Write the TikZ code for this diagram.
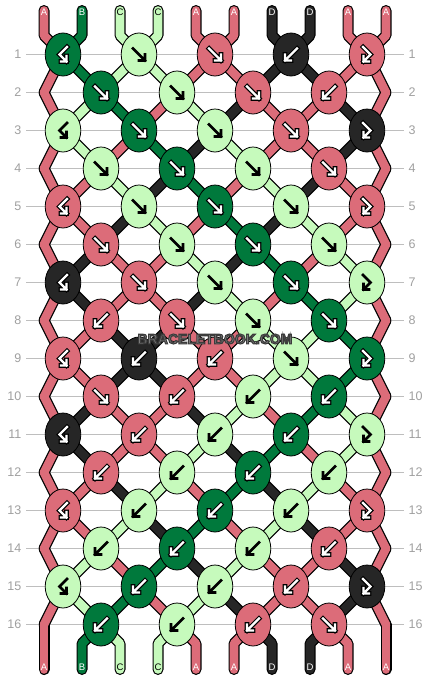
\documentclass[tikz,border=0pt]{standalone}
\usepackage{fontspec}
\setmainfont{Liberation Sans}
\usetikzlibrary{shapes.geometric}
\pgfdeclarelayer{back}
\pgfdeclarelayer{bg}
\pgfsetlayers{back,bg,main}
\definecolor{c0}{HTML}{DC6C79}
\definecolor{c1}{HTML}{00793C}
\definecolor{c2}{HTML}{C6FABC}
\definecolor{c3}{HTML}{262626}
\definecolor{rowgray}{HTML}{BEBEBE}
\definecolor{numgray}{HTML}{A0A0A0}
\definecolor{wmfill}{HTML}{858585}
\definecolor{wmline}{HTML}{3C3C3C}
\newcommand\PathF{(-6,-6) -- (6,6) (0,6) -- (6,6) -- (6,0)}
\newcommand\PathB{(6,-6) -- (-6,6) (0,6) -- (-6,6) -- (-6,0)}
\newcommand\PathFB{(-4,-7.5) -- (3.5,0) -- (-3.5,7) (-3.5,1.5) -- (-3.5,7) -- (2,7)}
\newcommand\PathBF{(4,-7.5) -- (-3.5,0) -- (3.5,7) (3.5,1.5) -- (3.5,7) -- (-2,7)}
\newcommand\OutlinedText[1]{\special{pdf:literal direct 2 Tr 1.1 w 0.235 0.235 0.235 RG}#1\special{pdf:literal direct 0 Tr}}
\tikzset{
  knot/.style={ellipse, draw=black, line width=0.8pt, inner sep=0pt, minimum width=35.6pt, minimum height=43pt},
  arrO/.style={draw=black, line width=4.6pt, line cap=rect, line join=miter},
  arrW/.style={draw=white, line width=2.4pt, line cap=rect, line join=miter},
  arrK/.style={draw=black, line width=2.6pt, line cap=rect, line join=miter},
  thread/.style={line cap=round, line join=round},
  rowline/.style={draw=rowgray, line width=1pt},
  rownum/.style={text=numgray, font=\fontsize{12.5}{12.5}\selectfont, inner sep=0pt},
  strlab/.style={font=\fontsize{9.5}{9.5}\selectfont, inner sep=0pt},
  wm/.style={font=\bfseries\fontsize{14}{14}\selectfont, inner sep=0pt},
}
\newcommand\Knot[4]{%
  \pgfmathsetmacro\kx{63+38*(1-mod(#1,2))+76*(#2-1)}%
  \pgfmathsetmacro\ky{54.5+38*(#1-1)}%
  \node[knot, fill=c#3] (k#1-#2) at (\kx,\ky) {};
  \expandafter\let\expandafter\curpath\csname Path#4\endcsname
  \begin{scope}[shift={(k#1-#2.center)}]
    \ifnum#3=2
      \draw[arrK] \curpath;
    \else
      \draw[arrO] \curpath;
      \draw[arrW] \curpath;
    \fi
  \end{scope}
}
\def\Tstate{{0,1,2,2,0,0,3,3,0,0,
0,1,2,2,0,0,3,3,0,0,
0,2,1,0,2,3,0,0,3,0,
0,2,0,1,3,2,0,0,3,0,
0,0,2,3,1,0,2,3,0,0,
0,0,3,2,0,1,3,2,0,0,
0,3,0,0,2,3,1,0,2,0,
0,3,0,0,3,2,0,1,2,0,
0,0,3,3,0,0,2,2,1,0,
0,0,3,3,0,0,2,2,1,0,
0,3,0,0,3,2,0,1,2,0,
0,3,0,0,2,3,1,0,2,0,
0,0,3,2,0,1,3,2,0,0,
0,0,2,3,1,0,2,3,0,0,
0,2,0,1,3,2,0,0,3,0,
0,2,1,0,2,3,0,0,3,0,
0,1,2,2,0,0,3,3,0,0}}
\begin{document}
\begin{tikzpicture}[x=1pt,y=-1pt]
\useasboundingbox (0,0) rectangle (430,680);
\begin{pgfonlayer}{back}
  \fill[white] (0,0) rectangle (430,680);
\end{pgfonlayer}
% row numbers and lines
\foreach \r in {1,...,16}{
  \node[rownum, anchor=east] (ln\r) at (21.5,{54.5+38*(\r-1)}) {\r};
  \node[rownum, anchor=west] (rn\r) at (408.5,{54.5+38*(\r-1)}) {\r};
  \begin{pgfonlayer}{back}
    \draw[rowline] (26,{54.5+38*(\r-1)}) -- (404,{54.5+38*(\r-1)});
  \end{pgfonlayer}
}
% coordinates
\foreach \s in {0,...,9}{
  \coordinate (top\s) at ({44+38*\s},10.5);
  \coordinate (tb\s) at ({44+38*\s},35.5);
  \coordinate (bb\s) at ({44+38*\s},643.5);
  \coordinate (bot\s) at ({44+38*\s},669.5);
}
\foreach \r in {2,4,...,16}{
  \coordinate (k\r-0) at (44,{54.5+38*(\r-1)});
  \coordinate (k\r-5) at (386,{54.5+38*(\r-1)});
}
% knots
\Knot{1}{1}{1}{BF}\Knot{1}{2}{2}{F}\Knot{1}{3}{0}{F}\Knot{1}{4}{3}{B}\Knot{1}{5}{0}{FB}
\Knot{2}{1}{1}{F}\Knot{2}{2}{2}{F}\Knot{2}{3}{0}{F}\Knot{2}{4}{0}{B}
\Knot{3}{1}{2}{BF}\Knot{3}{2}{1}{F}\Knot{3}{3}{2}{F}\Knot{3}{4}{0}{F}\Knot{3}{5}{3}{FB}
\Knot{4}{1}{2}{F}\Knot{4}{2}{1}{F}\Knot{4}{3}{2}{F}\Knot{4}{4}{0}{F}
\Knot{5}{1}{0}{BF}\Knot{5}{2}{2}{F}\Knot{5}{3}{1}{F}\Knot{5}{4}{2}{F}\Knot{5}{5}{0}{FB}
\Knot{6}{1}{0}{F}\Knot{6}{2}{2}{F}\Knot{6}{3}{1}{F}\Knot{6}{4}{2}{F}
\Knot{7}{1}{3}{BF}\Knot{7}{2}{0}{F}\Knot{7}{3}{2}{F}\Knot{7}{4}{1}{F}\Knot{7}{5}{2}{FB}
\Knot{8}{1}{0}{B}\Knot{8}{2}{0}{F}\Knot{8}{3}{2}{F}\Knot{8}{4}{1}{F}
\Knot{9}{1}{0}{BF}\Knot{9}{2}{3}{B}\Knot{9}{3}{0}{B}\Knot{9}{4}{2}{F}\Knot{9}{5}{1}{FB}
\Knot{10}{1}{0}{F}\Knot{10}{2}{0}{B}\Knot{10}{3}{2}{B}\Knot{10}{4}{1}{B}
\Knot{11}{1}{3}{BF}\Knot{11}{2}{0}{B}\Knot{11}{3}{2}{B}\Knot{11}{4}{1}{B}\Knot{11}{5}{2}{FB}
\Knot{12}{1}{0}{B}\Knot{12}{2}{2}{B}\Knot{12}{3}{1}{B}\Knot{12}{4}{2}{B}
\Knot{13}{1}{0}{BF}\Knot{13}{2}{2}{B}\Knot{13}{3}{1}{B}\Knot{13}{4}{2}{B}\Knot{13}{5}{0}{FB}
\Knot{14}{1}{2}{B}\Knot{14}{2}{1}{B}\Knot{14}{3}{2}{B}\Knot{14}{4}{0}{B}
\Knot{15}{1}{2}{BF}\Knot{15}{2}{1}{B}\Knot{15}{3}{2}{B}\Knot{15}{4}{0}{B}\Knot{15}{5}{3}{FB}
\Knot{16}{1}{1}{B}\Knot{16}{2}{2}{B}\Knot{16}{3}{0}{B}\Knot{16}{4}{0}{F}
% threads
\begin{pgfonlayer}{bg}
\foreach \pass in {1,2}{
 \foreach \r in {0,...,16}{
  \foreach \s in {0,...,9}{
    \pgfmathtruncatemacro\ci{\Tstate[\r*10+\s]}
    \pgfmathtruncatemacro\ja{floor((\s+1+mod(\r,2))/2)}
    \pgfmathtruncatemacro\rb{\r+1}
    \pgfmathtruncatemacro\jb{floor((\s+1+mod(\rb,2))/2)}
    \ifnum\pass=1 \colorlet{curthr}{black}\def\lw{11}\else\colorlet{curthr}{c\ci}\def\lw{8.6}\fi
    \ifnum\r=0
      \draw[thread, draw=curthr, line width=\lw pt] (top\s) -- (tb\s) -- (k1-\jb.center);
    \else\ifnum\r=16
      \draw[thread, draw=curthr, line width=\lw pt] (k16-\ja.center) -- (bb\s) -- (bot\s);
    \else
      \draw[thread, draw=curthr, line width=\lw pt] (k\r-\ja.center) -- (k\rb-\jb.center);
    \fi\fi
  }}}
\end{pgfonlayer}
% string labels
\foreach \s/\l/\tc in {0/A/white,1/B/white,2/C/black,3/C/black,4/A/white,5/A/white,6/D/white,7/D/white,8/A/white,9/A/white}{
  \node[strlab, text=\tc] (tl\s) at ({44+38*\s},12.5) {\l};
  \node[strlab, text=\tc] (bl\s) at ({44+38*\s},667.5) {\l};
}
% watermark
\node[wm, text=wmfill] (wm) at (215,339) {\OutlinedText{BRACELETBOOK.COM}};
\end{tikzpicture}
\end{document}
